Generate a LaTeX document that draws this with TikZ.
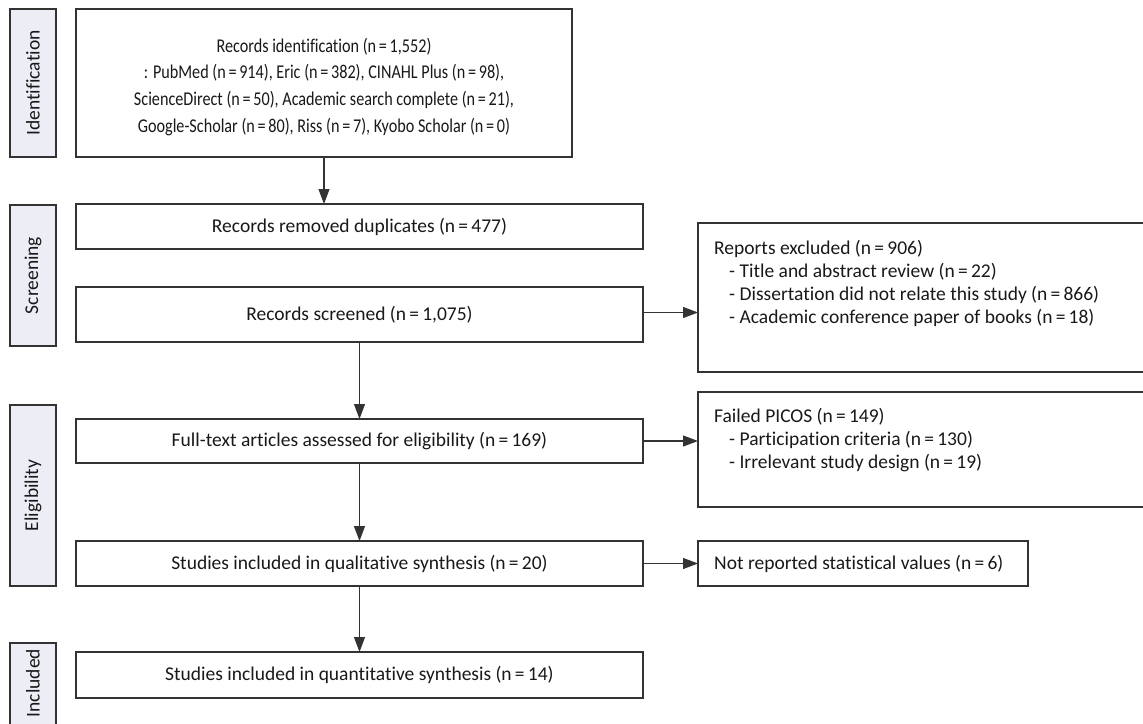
\documentclass[tikz,border=0pt]{standalone}
\usepackage{fontspec}
\usepackage{graphicx}
\setmainfont[Ligatures={NoCommon,NoContextual}]{Carlito}
\usetikzlibrary{arrows.meta}
\definecolor{linec}{HTML}{333333}
\definecolor{barfill}{HTML}{EDEDF6}
\tikzset{
  box/.style={draw=linec, line width=1.1pt, fill=white, inner sep=0pt, outer sep=0pt, align=center},
  bar/.style={draw=linec, line width=1.1pt, fill=barfill, inner sep=0pt, outer sep=0pt},
  bartext/.style={rotate=90, inner sep=0pt},
  sidetext/.style={anchor=north west, inner sep=0pt, align=left, font=\fontsize{19.5}{22.7}\selectfont},
  arr/.style={draw=linec, line width=1.1pt, -{Triangle[length=15pt,width=11pt]}},
}
\newcommand{\eq}{\,=\,}
\newcommand{\ind}{\hspace*{15pt}}
\begin{document}
\begin{tikzpicture}[x=1pt,y=-1pt,font=\fontsize{19.5}{26.7}\selectfont, text=black!90]
\useasboundingbox (0,0) rectangle (1143,723);
\clip (0,0) rectangle (1143,723);
% side bars
\node[bar, minimum width=46pt, minimum height=148pt] (idbar) at (33,83) {};
\node[bartext] (idtxt) at (idbar.center) {Identification};
\node[bar, minimum width=46pt, minimum height=141pt] (scbar) at (33,275.5) {};
\node[bartext] (sctxt) at (scbar.center) {Screening};
\node[bar, minimum width=46pt, minimum height=181pt] (elbar) at (33,495.5) {};
\node[bartext] (eltxt) at (elbar.center) {Eligibility};
\node[bar, minimum width=46pt, minimum height=100pt] (inbar) at (33,693) {};
\node[bartext] (intxt) at (33,683) {Included};
% main column
\node[box, minimum width=496pt, minimum height=148pt] (rec) at (324,83) {};
\node[inner sep=0pt] (rectxt) at (324,87)
  {\scalebox{0.83}[1]{\begin{tabular}{@{}c@{}}
   Records identification (n\eq1,552)\\
   : PubMed (n\eq914), Eric (n\eq382), CINAHL Plus (n\eq98),\\
   ScienceDirect (n\eq50), Academic search complete (n\eq21),\\
   Google-Scholar (n\eq80), Riss (n\eq7), Kyobo Scholar (n\eq0)
   \end{tabular}}};
\node[box, minimum width=567pt, minimum height=45pt] (dup) at (359.5,226.5) {Records removed duplicates (n\eq477)};
\node[box, minimum width=567pt, minimum height=55pt] (scr) at (359.5,314.5) {Records screened (n\eq1,075)};
\node[box, minimum width=567pt, minimum height=44pt] (full) at (359.5,441) {Full-text articles assessed for eligibility (n\eq169)};
\node[box, minimum width=567pt, minimum height=45pt] (qual) at (359.5,563.5) {Studies included in qualitative synthesis (n\eq20)};
\node[box, minimum width=567pt, minimum height=46pt] (quant) at (359.5,675) {Studies included in quantitative synthesis (n\eq14)};
% right column
\node[box, minimum width=460pt, minimum height=149pt] (excl) at (928,297.5) {};
\node[sidetext] (excltxt) at (714,240.5)
  {Reports excluded (n\eq906)\\
   \ind- Title and abstract review (n\eq22)\\
   \ind- Dissertation did not relate this study (n\eq866)\\
   \ind- Academic conference paper of books (n\eq18)};
\node[box, minimum width=460pt, minimum height=115pt] (picos) at (928,449.5) {};
\node[sidetext] (picostxt) at (714,408.5)
  {Failed PICOS (n\eq149)\\
   \ind- Participation criteria (n\eq130)\\
   \ind- Irrelevant study design (n\eq19)};
\node[box, minimum width=330pt, minimum height=45pt] (notrep) at (863,563.5) {};
\node[anchor=west, inner sep=0pt] (notreptxt) at (714,563.5) {Not reported statistical values (n\eq6)};
% arrows
\draw[arr] (rec.south) -- (rec.south |- dup.north);
\draw[arr] (scr.south) -- (full.north);
\draw[arr] (full.south) -- (qual.north);
\draw[arr] (qual.south) -- (quant.north);
\draw[arr] ([yshift=2pt]scr.east) -- ([yshift=2pt]scr.east -| excl.west);
\draw[arr] (full.east) -- (full.east -| picos.west);
\draw[arr] (qual.east) -- (notrep.west);
\end{tikzpicture}
\end{document}
